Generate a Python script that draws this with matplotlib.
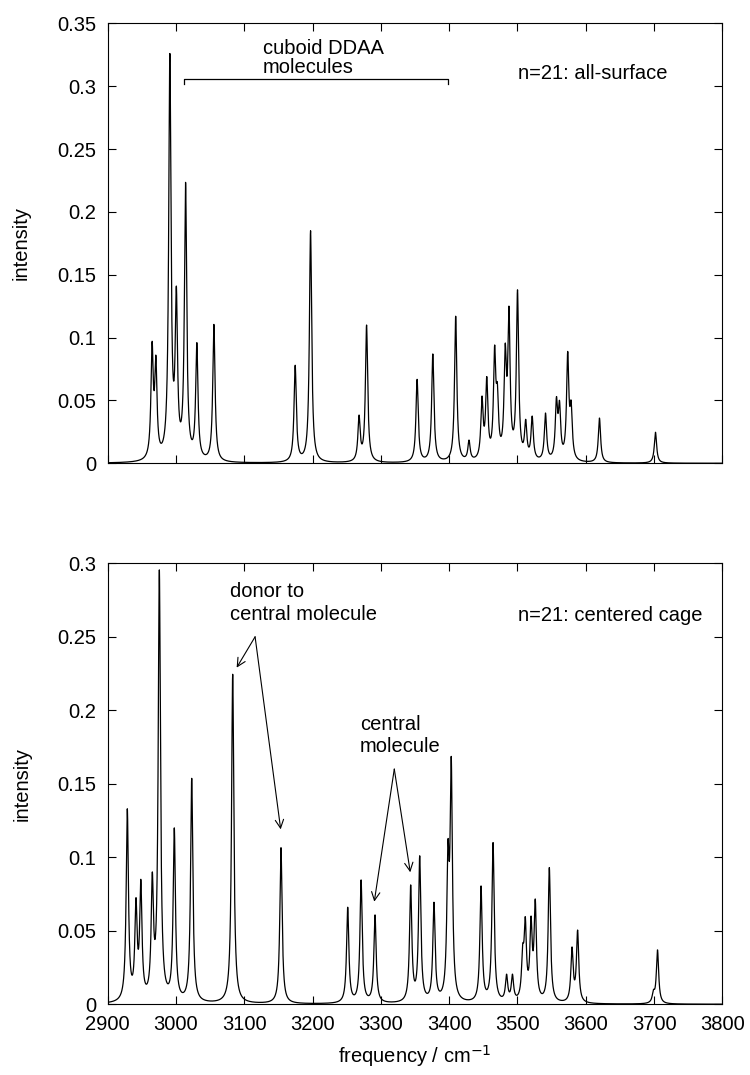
import numpy as np
import matplotlib
matplotlib.use("Agg")
import matplotlib.pyplot as plt
from matplotlib.ticker import MultipleLocator

plt.rcParams['font.family'] = ['Liberation Sans', 'DejaVu Sans']
plt.rcParams['font.size'] = 14.5

"""peak lists read off the picture (position / cm-1, peak height)"""

surf_freq = [2965, 2970.5, 2991, 3000.5, 3014, 3030.5, 3055.5, 3174.5, 3197,
             3268, 3279, 3353, 3376, 3409.5, 3429, 3448, 3455, 3466.5, 3470.5,
             3482, 3487.5, 3500, 3512, 3521.5, 3541, 3557, 3561.5, 3573.5,
             3578.5, 3620, 3702]
surf_height = [0.097, 0.086, 0.326, 0.141, 0.2235, 0.096, 0.1105, 0.078, 0.185,
               0.0384, 0.110, 0.0668, 0.087, 0.117, 0.0185, 0.0535, 0.069, 0.094, 0.064,
               0.0955, 0.125, 0.138, 0.035, 0.0376, 0.040, 0.053, 0.050, 0.089,
               0.050, 0.036, 0.0247]

cage_freq = [2928.7, 2941.4, 2948.5, 2965.3, 2975.6, 2997.5, 3023, 3083, 3153.7,
             3251.4, 3271, 3291.4, 3343.6, 3356.8, 3377.7, 3398.2, 3403, 3446.6,
             3464.2, 3484, 3492.6, 3507.6, 3511.4, 3519.8, 3526, 3546.6, 3579.8,
             3588, 3699, 3705]
cage_height = [0.133, 0.0725, 0.085, 0.090, 0.2955, 0.120, 0.1537, 0.2245, 0.1065,
               0.066, 0.0846, 0.0608, 0.0812, 0.101, 0.0694, 0.112, 0.1685, 0.0805,
               0.110, 0.0205, 0.0205, 0.041, 0.0596, 0.060, 0.0716, 0.093, 0.039,
               0.0505, 0.010, 0.037]

gamma = 2.0   # lorentzian half width, cm-1
freq = np.linspace(2900, 3800, 18001)

def lorentz(x, x0):
    return gamma**2/((x - x0)**2 + gamma**2)

def spectrum(pos, top):
    # find stick intensities so the broadened curve hits the read peak heights
    pos = np.array(pos)
    A = lorentz(pos[:, None], pos[None, :])
    sticks = np.clip(np.linalg.solve(A, np.array(top)), 0, None)
    return (sticks[None, :]*lorentz(freq[:, None], pos[None, :])).sum(axis=1)

surf_curve = spectrum(surf_freq, surf_height)
cage_curve = spectrum(cage_freq, cage_height)

"""plotting"""

fig = plt.figure(figsize=(7.5, 10.75), dpi=100)
ax1 = fig.add_axes([0.1436, 0.569, 0.8196, 0.4093])
ax2 = fig.add_axes([0.1436, 0.0658, 0.8196, 0.4102])

for ax in (ax1, ax2):
    ax.set_xlim(2900, 3800)
    ax.xaxis.set_major_locator(MultipleLocator(100))
    ax.yaxis.set_major_locator(MultipleLocator(0.05))
    ax.tick_params(direction='in', top=True, right=True, length=6, width=0.8, pad=8)
    for s in ax.spines.values():
        s.set_linewidth(0.8)
    ax.set_ylabel('intensity', labelpad=19)

ax1.plot(freq, surf_curve, color='black', lw=0.9)
ax1.set_ylim(0, 0.35)
ax1.set_yticks([0, 0.05, 0.1, 0.15, 0.2, 0.25, 0.3, 0.35])
ax1.set_yticklabels(['0', '0.05', '0.1', '0.15', '0.2', '0.25', '0.3', '0.35'])
ax1.tick_params(labelbottom=False)

# bracket over the cuboid DDAA peaks
ax1.plot([3012, 3012, 3398.6, 3398.6], [0.3017, 0.3057, 0.3057, 0.3017], color='black', lw=0.9)
ax1.text(3127, 0.3300, 'cuboid DDAA', ha='left', va='center')
ax1.text(3127, 0.3145, 'molecules', ha='left', va='center')
ax1.text(3500.8, 0.3097, 'n=21: all-surface', ha='left', va='center')

ax2.plot(freq, cage_curve, color='black', lw=0.9)
ax2.set_ylim(0, 0.3)
ax2.set_yticks([0, 0.05, 0.1, 0.15, 0.2, 0.25, 0.3])
ax2.set_yticklabels(['0', '0.05', '0.1', '0.15', '0.2', '0.25', '0.3'])
ax2.set_xlabel('frequency / cm$^{-1}$', labelpad=6)

ax2.text(3500.8, 0.2642, 'n=21: centered cage', ha='left', va='center')
ax2.text(3079, 0.2805, 'donor to', ha='left', va='center')
ax2.text(3079, 0.2649, 'central molecule', ha='left', va='center')
ax2.text(3269.5, 0.1900, 'central', ha='left', va='center')
ax2.text(3269.5, 0.1757, 'molecule', ha='left', va='center')

arrow = dict(arrowstyle='->', color='black', lw=0.8, shrinkA=0, shrinkB=0, mutation_scale=15)
for tip in [(3088.8, 0.229), (3153.3, 0.119)]:
    ax2.annotate('', xy=tip, xytext=(3115.8, 0.250), arrowprops=arrow)
for tip in [(3290.3, 0.0698), (3343, 0.0898)]:
    ax2.annotate('', xy=tip, xytext=(3319.6, 0.160), arrowprops=arrow)

plt.savefig('out.png', dpi=100)
